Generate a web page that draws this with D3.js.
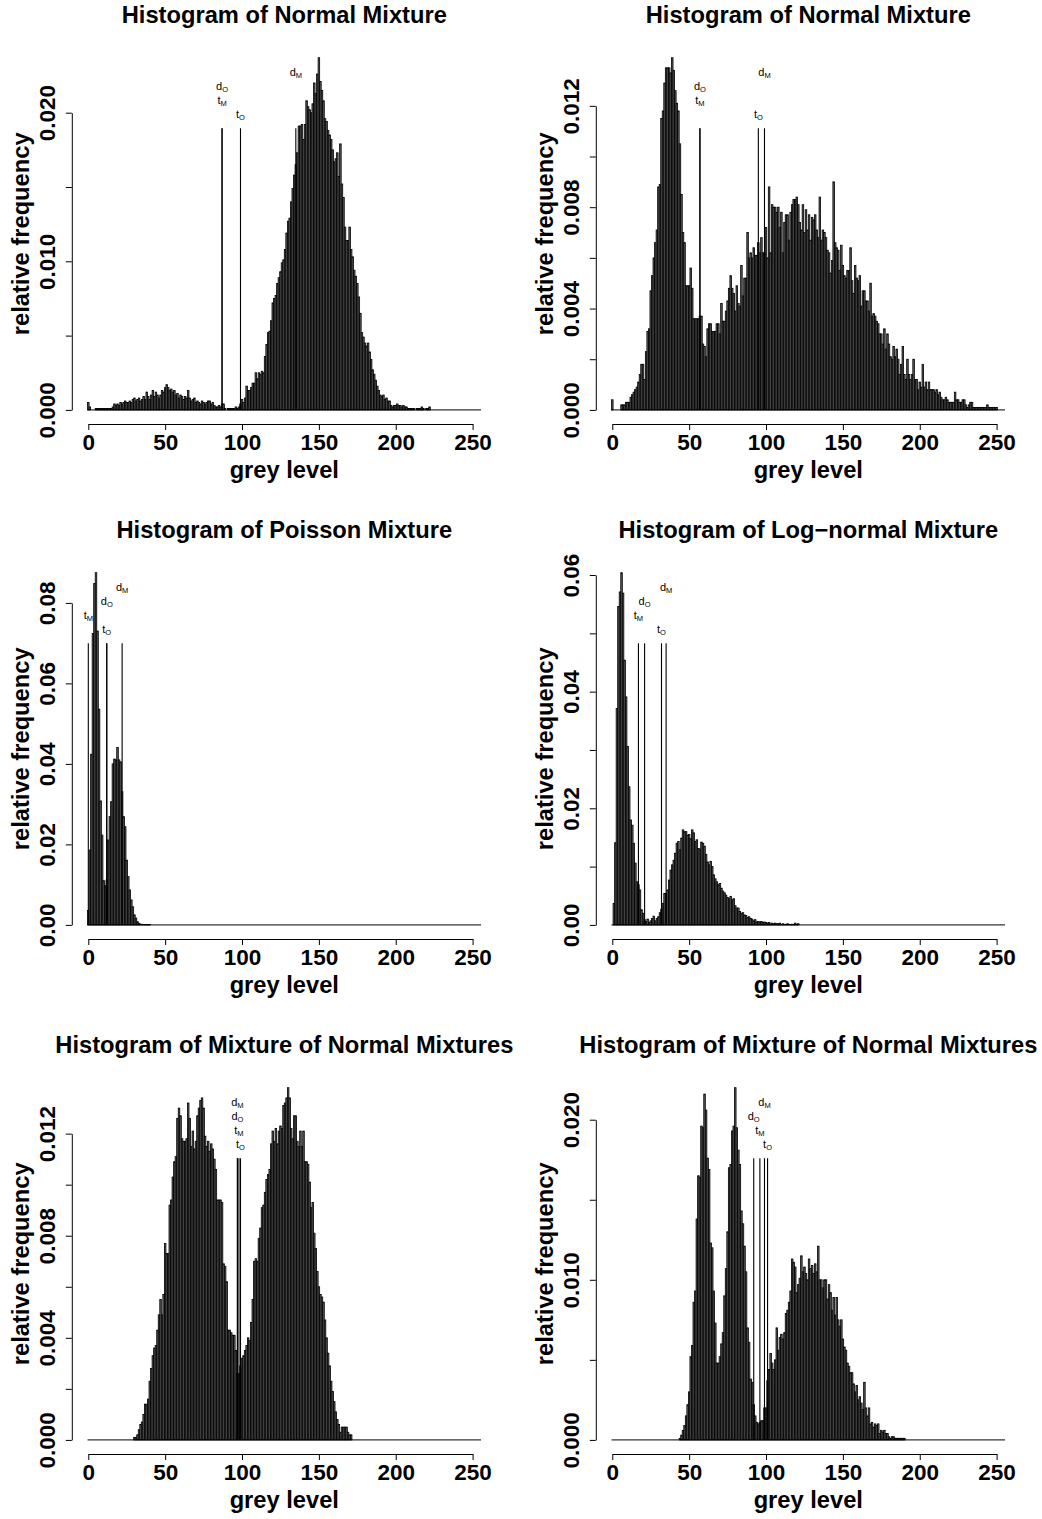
<!DOCTYPE html>
<html>
<head>
<meta charset="utf-8">
<script src="https://cdn.jsdelivr.net/npm/d3@7"></script>
<style>
body { margin: 0; background: #fff; }
svg text { font-family: "Liberation Sans", Arial, Helvetica, sans-serif; }
</style>
</head>
<body>
<svg id="fig" width="1042" height="1519"></svg>
<script>
// relative frequencies per grey level, in units of 1e-4 (bins 0,1,2,...; missing bins are 0)
var FREQ_UNIT = 1e-4

var freqNormalA = [
    5, 2, 0, 0, 0, 1, 1, 1, 1, 1,
    1, 1, 1, 1, 1, 1, 2, 4, 3, 4,
    3, 5, 4, 5, 6, 5, 5, 6, 5, 7,
    8, 6, 7, 8, 6, 7, 9, 7, 12, 9,
    7, 10, 13, 9, 12, 10, 8, 10, 13, 12,
    15, 17, 15, 13, 14, 12, 13, 10, 11, 8,
    10, 9, 7, 9, 8, 13, 8, 6, 7, 8,
    5, 6, 5, 4, 6, 5, 4, 5, 6, 6,
    4, 5, 3, 2, 2, 3, 2, 4, 4, 1,
    0, 1, 1, 1, 1, 1, 2, 1, 2, 4,
    7, 5, 8, 16, 13, 13, 15, 18, 18, 25,
    21, 25, 24, 26, 25, 36, 44, 52, 53, 60,
    72, 75, 77, 85, 89, 93, 99, 101, 108, 119,
    127, 129, 140, 149, 158, 165, 173, 191, 191, 192,
    182, 192, 208, 204, 202, 200, 206, 220, 213, 226,
    237, 221, 215, 208, 196, 194, 188, 185, 182, 175,
    167, 169, 173, 157, 179, 152, 143, 123, 114, 114,
    123, 108, 103, 94, 90, 85, 76, 65, 52, 49,
    45, 43, 45, 39, 34, 27, 24, 20, 16, 13,
    10, 9, 10, 7, 8, 6, 6, 3, 2, 3,
    3, 4, 3, 3, 2, 3, 2, 2, 1, 1,
    1, 1, 1, 0, 1, 1, 1, 2, 1, 0,
    1, 1, 2
]

var freqNormalB = [
    4, 0, 0, 0, 0, 0, 2, 2, 2, 3,
    3, 3, 5, 6, 7, 8, 9, 11, 14, 18,
    18, 12, 23, 31, 32, 47, 53, 60, 66, 71,
    88, 89, 115, 118, 129, 135, 135, 135, 133, 139,
    134, 126, 121, 118, 105, 85, 70, 66, 49, 49,
    49, 56, 48, 36, 36, 36, 36, 37, 37, 26,
    25, 21, 32, 34, 34, 31, 31, 31, 34, 34,
    30, 42, 35, 35, 39, 43, 48, 53, 48, 46,
    39, 49, 42, 41, 57, 45, 52, 52, 70, 60,
    62, 60, 64, 61, 61, 66, 62, 68, 62, 62,
    72, 60, 88, 62, 81, 80, 80, 78, 80, 72,
    78, 62, 74, 77, 77, 67, 78, 81, 83, 83,
    84, 81, 74, 71, 81, 70, 79, 71, 77, 67,
    76, 75, 77, 71, 68, 84, 67, 71, 70, 68,
    63, 62, 54, 59, 90, 66, 64, 63, 55, 65,
    57, 53, 52, 55, 55, 64, 51, 46, 57, 52,
    51, 53, 41, 47, 47, 43, 43, 39, 50, 37,
    38, 37, 35, 34, 30, 30, 26, 32, 24, 30,
    26, 21, 20, 25, 21, 24, 20, 14, 18, 25,
    14, 12, 20, 14, 12, 14, 20, 12, 12, 8,
    11, 9, 18, 9, 11, 8, 11, 8, 8, 8,
    7, 8, 6, 7, 5, 4, 4, 5, 4, 3,
    3, 3, 3, 7, 4, 4, 3, 3, 4, 4,
    2, 1, 2, 3, 3, 1, 1, 1, 1, 1,
    1, 1, 1, 1, 2, 1, 1, 1, 1, 1,
    1
]

var freqPoisson = [
    36, 186, 424, 724, 848, 875, 730, 536, 308, 223,
    110, 98, 112, 211, 269, 306, 400, 412, 410, 441,
    410, 405, 331, 269, 244, 161, 120, 87, 62, 45,
    25, 17, 8, 4, 2, 1, 1, 1, 1, 1,
    1
]

var freqLognormal = [
    0, 37, 141, 371, 546, 571, 604, 569, 454, 391,
    306, 237, 180, 171, 140, 106, 74, 69, 60, 26,
    20, 9, 6, 10, 4, 7, 11, 15, 7, 11,
    14, 21, 27, 37, 54, 54, 60, 77, 94, 103,
    111, 123, 140, 143, 129, 149, 163, 160, 160, 154,
    155, 148, 163, 158, 143, 146, 131, 130, 142, 140,
    135, 121, 108, 103, 109, 100, 86, 79, 74, 69,
    71, 63, 58, 55, 51, 47, 45, 49, 43, 45,
    33, 29, 29, 23, 20, 21, 17, 16, 13, 14,
    11, 10, 7, 9, 5, 6, 5, 6, 4, 5,
    4, 3, 4, 2, 3, 2, 3, 2, 2, 3,
    1, 2, 1, 1, 2, 1, 1, 1, 1, 3,
    1, 2
]

var freqMixtureA = [
    0, 0, 0, 0, 0, 0, 0, 0, 0, 0,
    0, 0, 0, 0, 0, 0, 0, 0, 0, 0,
    0, 0, 0, 0, 0, 0, 0, 0, 0, 0,
    1, 1, 2, 4, 6, 7, 10, 14, 14, 16,
    23, 28, 33, 36, 37, 43, 49, 55, 49, 57,
    77, 73, 73, 92, 94, 103, 109, 111, 126, 130,
    127, 118, 117, 117, 118, 132, 126, 115, 121, 114,
    117, 127, 130, 133, 134, 130, 119, 115, 117, 113,
    116, 114, 110, 106, 94, 94, 94, 93, 69, 68,
    62, 43, 43, 42, 41, 41, 35, 26, 26, 29,
    32, 33, 35, 37, 40, 39, 46, 55, 70, 71,
    70, 79, 83, 91, 92, 97, 102, 104, 106, 116,
    121, 117, 122, 116, 121, 123, 122, 131, 132, 134,
    138, 134, 122, 118, 127, 127, 117, 115, 121, 115,
    121, 109, 109, 108, 101, 91, 93, 81, 75, 66,
    60, 57, 56, 54, 47, 40, 34, 29, 23, 19,
    15, 11, 8, 6, 3, 5, 5, 5, 5, 3,
    2, 2
]

var freqMixtureB = [
    0, 0, 0, 0, 0, 0, 0, 0, 0, 0,
    0, 0, 0, 0, 0, 0, 0, 0, 0, 0,
    0, 0, 0, 0, 0, 0, 0, 0, 0, 0,
    0, 0, 0, 0, 0, 0, 0, 0, 0, 0,
    0, 0, 0, 0, 1, 3, 6, 9, 15, 22,
    30, 52, 59, 86, 93, 138, 165, 164, 196, 195,
    216, 206, 176, 169, 123, 120, 93, 73, 48, 48,
    52, 60, 67, 90, 107, 130, 170, 172, 193, 196,
    220, 195, 181, 172, 143, 135, 121, 105, 70, 61,
    38, 36, 22, 15, 11, 10, 11, 12, 12, 20,
    20, 37, 44, 54, 48, 44, 50, 70, 56, 64,
    66, 63, 67, 79, 81, 86, 93, 113, 111, 108,
    92, 97, 101, 115, 105, 108, 104, 100, 113, 107,
    109, 104, 110, 105, 121, 100, 100, 95, 100, 100,
    88, 97, 92, 81, 89, 78, 89, 75, 71, 75,
    63, 58, 56, 48, 46, 42, 42, 35, 30, 34,
    25, 27, 23, 19, 36, 20, 15, 20, 10, 11,
    8, 10, 9, 10, 4, 6, 5, 6, 4, 4,
    2, 1, 2, 2, 1, 1, 1, 1, 1, 1,
    1
]

// threshold grey levels, in the order of thresholdNames
var thresholdNames = [["d", "M"], ["d", "O"], ["t", "M"], ["t", "O"]]
var thresholdsNormalA = [135, 87, 87, 99]
var thresholdsNormalB = [99, 57, 57, 95]
var thresholdsPoisson = [22, 12, 0, 12]
var thresholdsLognormal = [35, 21, 17, 32]
var thresholdsMixtureA = [97, 97, 98, 99]
var thresholdsMixtureB = [99, 92, 96, 101]

var titles = [
    "Histogram of Normal Mixture",
    "Histogram of Normal Mixture",
    "Histogram of Poisson Mixture",
    "Histogram of Log\u2212normal Mixture",
    "Histogram of Mixture of Normal Mixtures",
    "Histogram of Mixture of Normal Mixtures"
]

var xTicks = [0, 50, 100, 150, 200, 250]
var yTicksFine = [0, 0.005, 0.010, 0.015, 0.020]
var yLabelsFine = ["0.000", "", "0.010", "", "0.020"]
var yTicksSmall = [0, 0.002, 0.004, 0.006, 0.008, 0.010, 0.012]
var yLabelsSmall = ["0.000", "", "0.004", "", "0.008", "", "0.012"]
var yTicksPoisson = [0, 0.02, 0.04, 0.06, 0.08]
var yLabelsPoisson = ["0.00", "0.02", "0.04", "0.06", "0.08"]
var yTicksLognormal = [0, 0.01, 0.02, 0.03, 0.04, 0.05, 0.06]
var yLabelsLognormal = ["0.00", "", "0.02", "", "0.04", "", "0.06"]


function histPanel() {
    "use strict";

    var left = 71.8
    var top = 43.6
    var width = 425
    var height = 380.4
    var title = ""
    var freq = []
    var thresholds = []
    var yTicks = []
    var yLabels = []
    var barFill = "#5c5c5c"
    // label heights as a share of the highest bar: dM, dO, tM, tO
    var labelLevels = [0.955, 0.915, 0.875, 0.835]

    function chart(selection) {
        selection.each(function() {
            var sel = d3.select(this)
            var fmax = d3.max(freq)

            var x = d3.scaleLinear().domain([-10.74, 265.74]).range([left, left + width])
            var y = d3.scaleLinear().domain([-0.04 * fmax, 1.04 * fmax]).range([top + height, top])

            sel.append("g").selectAll(".bar")
                .data(freq).enter()
                .append("rect")
                .attr("class", "bar")
                .attr("x", function(d, i) { return x(i - 0.5) })
                .attr("width", x(1) - x(0))
                .attr("y", function(d) { return y(d) })
                .attr("height", function(d) { return y(0) - y(d) })
                .attr("fill", barFill)
                .attr("stroke", "#000")
                .attr("stroke-width", 0.8)

            sel.append("line")
                .attr("x1", x(-0.5)).attr("x2", x(255.5))
                .attr("y1", y(0)).attr("y2", y(0))
                .attr("stroke", "#000").attr("stroke-width", 1)

            sel.selectAll(".threshold")
                .data(thresholds).enter()
                .append("line")
                .attr("class", "threshold")
                .attr("x1", function(d) { return x(d) })
                .attr("x2", function(d) { return x(d) })
                .attr("y1", y(0))
                .attr("y2", y(0.8 * fmax))
                .attr("stroke", "#000")
                .attr("stroke-width", 1.1)

            var labels = sel.selectAll(".tlabel")
                .data(thresholds).enter()
                .append("text")
                .attr("class", "tlabel")
                .attr("x", function(d) { return x(d) })
                .attr("y", function(d, i) { return y(labelLevels[i] * fmax) + 2 })
                .attr("text-anchor", "middle")
                .attr("font-size", "11px")
                .attr("fill", "#000")
                .text(function(d, i) { return thresholdNames[i][0] })
            labels.append("tspan")
                .attr("font-size", "7.5px")
                .attr("dy", 2.5)
                .text(function(d, i) { return thresholdNames[i][1] })

            // x axis, below the plot region
            var xAxisScale = d3.scaleLinear().domain([0, 250]).range([x(0), x(250)])
            var xAxis = sel.append("g")
                .attr("transform", "translate(0," + (top + height) + ")")
                .call(d3.axisBottom(xAxisScale).tickValues(xTicks).tickSize(6).tickSizeOuter(0))
            xAxis.selectAll("text")
                .attr("y", 26).attr("dy", null)
                .attr("font-size", "22.5px").attr("font-weight", "bold")
                .attr("font-family", null)

            // y axis, left edge of the plot region
            var y0 = yTicks[0], y1 = yTicks[yTicks.length - 1]
            var yAxisScale = d3.scaleLinear().domain([y0, y1]).range([y(y0), y(y1)])
            var yAxis = sel.append("g")
                .attr("transform", "translate(" + left + ",0)")
                .call(d3.axisLeft(yAxisScale).tickValues(yTicks).tickSize(6).tickSizeOuter(0)
                    .tickFormat(function(d, i) { return yLabels[i] }))
            yAxis.selectAll("text")
                .attr("x", null).attr("dy", null)
                .attr("text-anchor", "middle")
                .attr("transform", "translate(-16.8,0) rotate(-90)")
                .attr("font-size", "22.5px").attr("font-weight", "bold")
                .attr("font-family", null)

            sel.selectAll(".domain, .tick line")
                .attr("stroke", "#000").attr("stroke-width", 1)
            sel.selectAll(".tick text").attr("fill", "#000")

            sel.append("text")
                .attr("x", left + width / 2)
                .attr("y", top - 20.3)
                .attr("text-anchor", "middle")
                .attr("font-size", "23.7px").attr("font-weight", "bold")
                .text(title)

            sel.append("text")
                .attr("x", left + width / 2)
                .attr("y", top + height + 53.5)
                .attr("text-anchor", "middle")
                .attr("font-size", "23.7px").attr("font-weight", "bold")
                .text("grey level")

            sel.append("text")
                .attr("transform", "translate(" + (left - 42.5) + "," + (top + height / 2) + ") rotate(-90)")
                .attr("text-anchor", "middle")
                .attr("font-size", "23.7px").attr("font-weight", "bold")
                .text("relative frequency")
        })
    }

    chart.left = function(value) {
        if (!arguments.length) return left
        left = value
        return chart
    }

    chart.top = function(value) {
        if (!arguments.length) return top
        top = value
        return chart
    }

    chart.title = function(value) {
        if (!arguments.length) return title
        title = value
        return chart
    }

    chart.freq = function(value) {
        if (!arguments.length) return freq
        freq = value
        return chart
    }

    chart.thresholds = function(value) {
        if (!arguments.length) return thresholds
        thresholds = value
        return chart
    }

    chart.yTicks = function(ticks, labels) {
        if (!arguments.length) return yTicks
        yTicks = ticks
        yLabels = labels
        return chart
    }

    return chart
}

var panels = [
    [titles[0], freqNormalA, thresholdsNormalA, yTicksFine, yLabelsFine],
    [titles[1], freqNormalB, thresholdsNormalB, yTicksSmall, yLabelsSmall],
    [titles[2], freqPoisson, thresholdsPoisson, yTicksPoisson, yLabelsPoisson],
    [titles[3], freqLognormal, thresholdsLognormal, yTicksLognormal, yLabelsLognormal],
    [titles[4], freqMixtureA, thresholdsMixtureA, yTicksSmall, yLabelsSmall],
    [titles[5], freqMixtureB, thresholdsMixtureB, yTicksFine, yLabelsFine]
]

var svg = d3.select("#fig")

panels.forEach(function(p, i) {
    var col = i % 2
    var row = Math.floor(i / 2)
    var panel = histPanel()
        .left(71.8 + col * 524)
        .top(43.6 + row * 515)
        .title(p[0])
        .freq(p[1].map(function(v) { return v * FREQ_UNIT }))
        .thresholds(p[2])
        .yTicks(p[3], p[4])
    svg.append("g").attr("class", "panel").call(panel)
})
</script>
</body>
</html>
